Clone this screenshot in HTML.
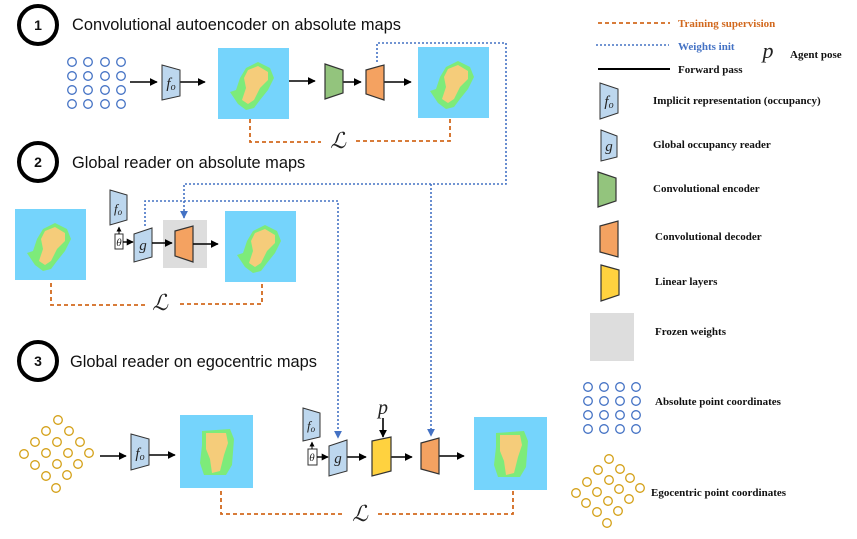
<!DOCTYPE html>
<html><head><meta charset="utf-8"><style>
html,body{margin:0;padding:0;background:#fff;}
svg{display:block;}
.t{font-family:"Liberation Sans",sans-serif;font-size:16.4px;fill:#111;}
.n{font-family:"Liberation Sans",sans-serif;font-size:14px;font-weight:bold;fill:#111;}
.lg{font-family:"Liberation Serif",serif;font-size:11px;font-weight:bold;fill:#111;}
.m{font-family:"Liberation Serif",serif;font-style:italic;fill:#222;}
</style></head><body>
<svg width="857" height="539" viewBox="0 0 857 539" xmlns="http://www.w3.org/2000/svg">
<defs>
<marker id="ah" viewBox="0 0 10 10" refX="9" refY="5" markerWidth="5" markerHeight="5" orient="auto"><path d="M0,0L10,5L0,10z" fill="#000"/></marker>
<marker id="bh" viewBox="0 0 10 10" refX="9" refY="5" markerWidth="5" markerHeight="5" orient="auto"><path d="M0,0L10,5L0,10z" fill="#4472C4"/></marker>
<g id="map">
<rect x="0" y="0" width="71" height="71" fill="#75D4FC"/>
<polygon points="28,20 40,14 52,20 56,30 50,42 42,52 36,60 28,62 20,56 12,44 18,42 22,30" fill="#7DEB7A"/>
<polygon points="30,22 40,18 50,24 50,32 42,40 36,52 30,56 24,52 28,40 26,30" fill="#F5CC7A"/>
</g>
<g id="emap">
<rect x="0" y="0" width="73" height="73" fill="#75D4FC"/>
<polygon points="22,16 50,14 54,24 52,50 46,60 24,60 20,48 22,30" fill="#7DEB7A"/>
<polygon points="26,18 46,18 48,28 44,40 40,56 32,58 30,44 26,34" fill="#F5CC7A"/>
</g>
</defs>

<circle cx="38" cy="25" r="19" fill="none" stroke="#000" stroke-width="4"/>
<text x="38" y="30" class="n" text-anchor="middle">1</text>
<text x="72" y="30" class="t">Convolutional autoencoder on absolute maps</text>
<circle cx="38" cy="162" r="19" fill="none" stroke="#000" stroke-width="4"/>
<text x="38" y="167" class="n" text-anchor="middle">2</text>
<text x="72" y="168" class="t">Global reader on absolute maps</text>
<circle cx="38" cy="361" r="19" fill="none" stroke="#000" stroke-width="4"/>
<text x="38" y="366" class="n" text-anchor="middle">3</text>
<text x="70" y="367" class="t">Global reader on egocentric maps</text>

<g fill="none" stroke="#4472C4" stroke-width="1.6" stroke-dasharray="2,2">
<polyline points="377,62 377,43 506,43 506,184 184,184 184,218" marker-end="url(#bh)"/>
<polyline points="431,184 431,436" marker-end="url(#bh)"/>
<polyline points="145,226 145,201 338,201 338,438" marker-end="url(#bh)"/>
</g>

<g fill="none" stroke="#4472C4" stroke-width="1.3">
<circle cx="72" cy="62" r="4.3"/><circle cx="88" cy="62" r="4.3"/><circle cx="105" cy="62" r="4.3"/><circle cx="121" cy="62" r="4.3"/>
<circle cx="72" cy="76" r="4.3"/><circle cx="88" cy="76" r="4.3"/><circle cx="105" cy="76" r="4.3"/><circle cx="121" cy="76" r="4.3"/>
<circle cx="72" cy="90" r="4.3"/><circle cx="88" cy="90" r="4.3"/><circle cx="105" cy="90" r="4.3"/><circle cx="121" cy="90" r="4.3"/>
<circle cx="72" cy="104" r="4.3"/><circle cx="88" cy="104" r="4.3"/><circle cx="105" cy="104" r="4.3"/><circle cx="121" cy="104" r="4.3"/>
</g>
<g stroke="#000" stroke-width="1.6" marker-end="url(#ah)">
<line x1="130" y1="82" x2="157" y2="82"/>
<line x1="180" y1="82" x2="205" y2="82"/>
<line x1="289" y1="81" x2="315" y2="81"/>
<line x1="343" y1="82" x2="361" y2="82"/>
<line x1="384" y1="82" x2="411" y2="82"/>
</g>
<polygon points="162,65 180,70 180,96 162,100" fill="#BDD7EE" stroke="#333" stroke-width="1"/>
<text x="171" y="88" class="m" font-size="15" text-anchor="middle">f<tspan font-size="10" dy="2">o</tspan></text>
<use href="#map" x="218" y="48"/>
<polygon points="325,64 343,70 343,93 325,99" fill="#93C47D" stroke="#333" stroke-width="1.2"/>
<polygon points="366,70 384,65 384,100 366,94" fill="#F4A261" stroke="#333" stroke-width="1.2"/>
<use href="#map" x="418" y="47"/>
<g fill="none" stroke="#D2691E" stroke-width="1.8" stroke-dasharray="4,3">
<polyline points="250,119 250,142 321,142"/>
<polyline points="356,141 450,141 450,119"/>
</g>
<text x="338" y="148" class="m" font-size="22" text-anchor="middle">ℒ</text>

<use href="#map" x="15" y="209"/>
<polygon points="110,190 127,195 127,220 110,225" fill="#BDD7EE" stroke="#333" stroke-width="1"/>
<text x="118" y="213" class="m" font-size="13" text-anchor="middle">f<tspan font-size="9" dy="2">o</tspan></text>
<rect x="115" y="234" width="8" height="15" fill="#fff" stroke="#333" stroke-width="1"/>
<text x="119" y="246" class="m" font-size="11" text-anchor="middle">θ</text>
<line x1="119" y1="234" x2="119" y2="227" stroke="#000" stroke-width="1" marker-end="url(#ah)"/>
<line x1="123" y1="242" x2="133" y2="242" stroke="#000" stroke-width="1.4" marker-end="url(#ah)"/>
<polygon points="134,234 152,228 152,257 134,262" fill="#BDD7EE" stroke="#333" stroke-width="1"/>
<text x="143" y="250" class="m" font-size="15" text-anchor="middle">g</text>
<rect x="163" y="220" width="44" height="48" fill="#DDDDDD"/>
<line x1="152" y1="243" x2="172" y2="243" stroke="#000" stroke-width="1.6" marker-end="url(#ah)"/>
<polygon points="175,231 193,226 193,262 175,256" fill="#F4A261" stroke="#333" stroke-width="1.2"/>
<line x1="193" y1="244" x2="218" y2="244" stroke="#000" stroke-width="1.6" marker-end="url(#ah)"/>
<use href="#map" x="225" y="211"/>
<g fill="none" stroke="#D2691E" stroke-width="1.8" stroke-dasharray="4,3">
<polyline points="51,283 51,305 145,305"/>
<polyline points="180,304 262,304 262,283"/>
</g>
<text x="160" y="310" class="m" font-size="22" text-anchor="middle">ℒ</text>

<g fill="none" stroke="#D4A017" stroke-width="1.3">
<circle cx="58" cy="420" r="4.3"/><circle cx="69" cy="431" r="4.3"/><circle cx="80" cy="442" r="4.3"/><circle cx="89" cy="453" r="4.3"/>
<circle cx="46" cy="431" r="4.3"/><circle cx="57" cy="442" r="4.3"/><circle cx="68" cy="453" r="4.3"/><circle cx="78" cy="464" r="4.3"/>
<circle cx="35" cy="442" r="4.3"/><circle cx="46" cy="453" r="4.3"/><circle cx="57" cy="464" r="4.3"/><circle cx="67" cy="475" r="4.3"/>
<circle cx="24" cy="454" r="4.3"/><circle cx="35" cy="465" r="4.3"/><circle cx="46" cy="476" r="4.3"/><circle cx="56" cy="488" r="4.3"/>
</g>
<g stroke="#000" stroke-width="1.6" marker-end="url(#ah)">
<line x1="100" y1="456" x2="126" y2="456"/>
<line x1="149" y1="455" x2="175" y2="455"/>
<line x1="347" y1="457" x2="366" y2="457"/>
<line x1="391" y1="457" x2="412" y2="457"/>
<line x1="439" y1="456" x2="464" y2="456"/>
<line x1="383" y1="418" x2="383" y2="437"/>
</g>
<polygon points="131,434 149,439 149,465 131,470" fill="#BDD7EE" stroke="#333" stroke-width="1"/>
<text x="140" y="458" class="m" font-size="15" text-anchor="middle">f<tspan font-size="10" dy="2">o</tspan></text>
<use href="#emap" x="180" y="415"/>
<polygon points="303,408 320,413 320,437 303,441" fill="#BDD7EE" stroke="#333" stroke-width="1"/>
<text x="311" y="430" class="m" font-size="13" text-anchor="middle">f<tspan font-size="9" dy="2">o</tspan></text>
<rect x="308" y="449" width="9" height="16" fill="#fff" stroke="#333" stroke-width="1"/>
<text x="312" y="461" class="m" font-size="11" text-anchor="middle">θ</text>
<line x1="312" y1="449" x2="312" y2="442" stroke="#000" stroke-width="1" marker-end="url(#ah)"/>
<line x1="317" y1="457" x2="328" y2="457" stroke="#000" stroke-width="1.4" marker-end="url(#ah)"/>
<polygon points="329,446 347,440 347,471 329,476" fill="#BDD7EE" stroke="#333" stroke-width="1"/>
<text x="338" y="463" class="m" font-size="15" text-anchor="middle">g</text>
<text x="383" y="414" class="m" font-size="20" text-anchor="middle">p</text>
<polygon points="372,441 391,437 391,471 372,476" fill="#FFD23F" stroke="#333" stroke-width="1.2"/>
<polygon points="421,443 439,438 439,474 421,469" fill="#F4A261" stroke="#333" stroke-width="1.2"/>
<use href="#emap" x="474" y="417"/>
<g fill="none" stroke="#D2691E" stroke-width="1.8" stroke-dasharray="4,3">
<polyline points="221,491 221,514 345,514"/>
<polyline points="378,514 513,514 513,491"/>
</g>
<text x="360" y="521" class="m" font-size="22" text-anchor="middle">ℒ</text>

<line x1="598" y1="23" x2="670" y2="23" stroke="#D2691E" stroke-width="1.8" stroke-dasharray="4,3"/>
<text x="678" y="27" class="lg" style="fill:#D2691E">Training supervision</text>
<line x1="596" y1="45" x2="669" y2="45" stroke="#4472C4" stroke-width="1.5" stroke-dasharray="2,2"/>
<text x="678" y="50" class="lg" style="fill:#4472C4">Weights init</text>
<text x="768" y="58" class="m" font-size="22" text-anchor="middle">p</text>
<text x="790" y="58" class="lg">Agent pose</text>
<line x1="598" y1="69" x2="670" y2="69" stroke="#000" stroke-width="2"/>
<text x="678" y="73" class="lg">Forward pass</text>
<polygon points="600,83 618,89 618,113 600,119" fill="#BDD7EE" stroke="#333" stroke-width="1"/>
<text x="609" y="106" class="m" font-size="15" text-anchor="middle">f<tspan font-size="10" dy="2">o</tspan></text>
<text x="653" y="104" class="lg">Implicit representation (occupancy)</text>
<polygon points="601,130 617,136 617,157 601,161" fill="#BDD7EE" stroke="#333" stroke-width="1"/>
<text x="609" y="151" class="m" font-size="15" text-anchor="middle">g</text>
<text x="653" y="148" class="lg">Global occupancy reader</text>
<polygon points="598,172 616,178 616,201 598,207" fill="#93C47D" stroke="#333" stroke-width="1.2"/>
<text x="653" y="192" class="lg">Convolutional encoder</text>
<polygon points="600,226 618,221 618,257 600,252" fill="#F4A261" stroke="#333" stroke-width="1.2"/>
<text x="655" y="240" class="lg">Convolutional decoder</text>
<polygon points="601,265 619,270 619,295 601,301" fill="#FFD23F" stroke="#333" stroke-width="1.2"/>
<text x="655" y="285" class="lg">Linear layers</text>
<rect x="590" y="313" width="44" height="48" fill="#DDDDDD"/>
<text x="655" y="335" class="lg">Frozen weights</text>
<g fill="none" stroke="#4472C4" stroke-width="1.3">
<circle cx="588" cy="387" r="4.3"/><circle cx="604" cy="387" r="4.3"/><circle cx="620" cy="387" r="4.3"/><circle cx="636" cy="387" r="4.3"/>
<circle cx="588" cy="401" r="4.3"/><circle cx="604" cy="401" r="4.3"/><circle cx="620" cy="401" r="4.3"/><circle cx="636" cy="401" r="4.3"/>
<circle cx="588" cy="415" r="4.3"/><circle cx="604" cy="415" r="4.3"/><circle cx="620" cy="415" r="4.3"/><circle cx="636" cy="415" r="4.3"/>
<circle cx="588" cy="429" r="4.3"/><circle cx="604" cy="429" r="4.3"/><circle cx="620" cy="429" r="4.3"/><circle cx="636" cy="429" r="4.3"/>
</g>
<text x="655" y="405" class="lg">Absolute point coordinates</text>
<g fill="none" stroke="#D4A017" stroke-width="1.3">
<circle cx="609" cy="459" r="4.3"/><circle cx="620" cy="469" r="4.3"/><circle cx="630" cy="478" r="4.3"/><circle cx="640" cy="488" r="4.3"/>
<circle cx="598" cy="470" r="4.3"/><circle cx="609" cy="480" r="4.3"/><circle cx="619" cy="489" r="4.3"/><circle cx="629" cy="499" r="4.3"/>
<circle cx="587" cy="482" r="4.3"/><circle cx="597" cy="492" r="4.3"/><circle cx="608" cy="501" r="4.3"/><circle cx="618" cy="511" r="4.3"/>
<circle cx="576" cy="493" r="4.3"/><circle cx="586" cy="503" r="4.3"/><circle cx="597" cy="512" r="4.3"/><circle cx="607" cy="523" r="4.3"/>
</g>
<text x="651" y="496" class="lg">Egocentric point coordinates</text>
</svg>
</body></html>
